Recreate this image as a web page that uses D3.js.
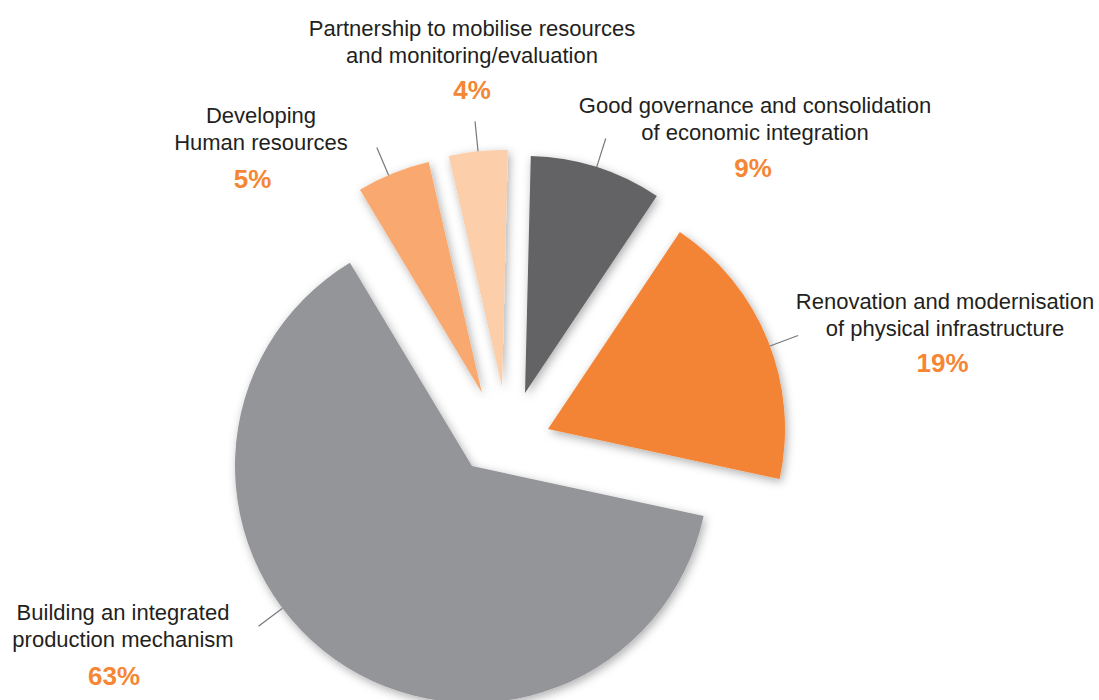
<!DOCTYPE html>
<html>
<head>
<meta charset="utf-8">
<script src="https://cdn.jsdelivr.net/npm/d3@7"></script>
<style>
  html, body { margin: 0; padding: 0; background: #fff; }
  svg { display: block; }
</style>
</head>
<body>
<svg id="chart" width="1099" height="700"></svg>
<script>
// ---- data ----
const categories = [
  ["Good governance and consolidation", "of economic integration"],
  ["Renovation and modernisation", "of physical infrastructure"],
  ["Building an integrated", "production mechanism"],
  ["Developing", "Human resources"],
  ["Partnership to mobilise resources", "and monitoring/evaluation"]
];
const values = [9, 19, 63, 5, 4];
const colors = ["#636466", "#f48434", "#939598", "#f9a970", "#fccfaa"];

// ---- layout (not data) ----
const W = 1099, H = 700;
const center = [508, 445];
const radius = 237;
const startDeg = 1.4;
// explode offsets of each slice from the pie centre
const explode = [[17, -52], [40, -16], [-36, 21], [-26, -52], [-6, -58]];
// leader-line angle adjustment (degrees), relative to slice mid-angle
const leaderShift = [0, 1.5, 17.5, -1.2, 0];
const leaderLen = 30;
// label anchor positions: x centre, first baseline, percent x, percent baseline
const labelPos = [
  [755, 113.3, 753, 177.3],
  [945, 309.3, 942.5, 371.7],
  [123, 620, 114, 685],
  [261, 123, 252.5, 187.7],
  [472, 36, 472, 99]
];
const lineGap = 26.5;

const svg = d3.select("#chart");
const defs = svg.append("defs");
const f = defs.append("filter").attr("id", "shadow")
  .attr("x", "-20%").attr("y", "-20%").attr("width", "140%").attr("height", "140%");
f.append("feDropShadow").attr("dx", 2).attr("dy", 3).attr("stdDeviation", 5)
  .attr("flood-color", "#000").attr("flood-opacity", 0.32);

const toRad = d => d * Math.PI / 180;
const pie = d3.pie().sort(null).value(d => d)
  .startAngle(toRad(startDeg)).endAngle(toRad(startDeg) + 2 * Math.PI);
const arcs = pie(values);
const arc = d3.arc().innerRadius(0).outerRadius(radius);

const g = svg.append("g").attr("transform", `translate(${center[0]},${center[1]})`);

// draw big slice first, then others
const order = [2, 1, 0, 3, 4];
order.forEach(i => {
  const a = arcs[i];
  g.append("path")
    .attr("d", arc(a))
    .attr("fill", colors[i])
    .attr("filter", "url(#shadow)")
    .attr("transform", `translate(${explode[i][0]},${explode[i][1]})`);
});

// leader lines
arcs.forEach((a, i) => {
  const mid = (a.startAngle + a.endAngle) / 2 + toRad(leaderShift[i]);
  const ox = explode[i][0], oy = explode[i][1];
  const x1 = ox + radius * Math.sin(mid), y1 = oy - radius * Math.cos(mid);
  const x2 = ox + (radius + leaderLen) * Math.sin(mid), y2 = oy - (radius + leaderLen) * Math.cos(mid);
  g.append("line")
    .attr("x1", x1).attr("y1", y1).attr("x2", x2).attr("y2", y2)
    .attr("stroke", "#77787b").attr("stroke-width", 1.2);
});

// labels
const font = "'Liberation Sans', Arial, Helvetica, sans-serif";
categories.forEach((lines, i) => {
  const [lx, ly, px, py] = labelPos[i];
  lines.forEach((t, k) => {
    svg.append("text")
      .attr("x", lx).attr("y", ly + k * lineGap)
      .attr("text-anchor", "middle")
      .attr("font-family", font).attr("font-size", 22)
      .attr("fill", "#231f20")
      .text(t);
  });
  svg.append("text")
    .attr("x", px).attr("y", py)
    .attr("text-anchor", "middle")
    .attr("font-family", font).attr("font-size", 26).attr("font-weight", "bold")
    .attr("fill", "#f58634")
    .text(values[i] + "%");
});
</script>
</body>
</html>
